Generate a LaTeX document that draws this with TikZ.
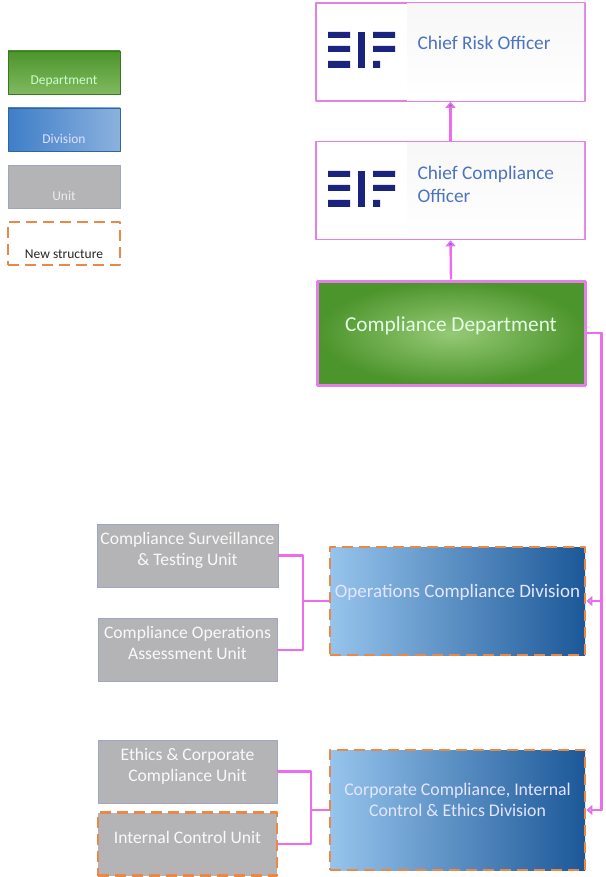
\documentclass[tikz,border=0pt]{standalone}
\usepackage{fontspec}
\setmainfont{Carlito}
\usetikzlibrary{arrows.meta}
\definecolor{linkpink}{RGB}{236,108,236}
\definecolor{boxpink}{RGB}{226,128,232}
\definecolor{neworange}{RGB}{232,137,74}
\definecolor{unitgray}{RGB}{180,180,182}
\definecolor{unitedge}{RGB}{158,166,192}
\definecolor{deplight}{RGB}{150,202,118}
\definecolor{depdark}{RGB}{76,148,44}
\definecolor{divlight}{RGB}{150,196,236}
\definecolor{divdark}{RGB}{28,88,152}
\definecolor{legblue}{RGB}{62,126,200}
\definecolor{eifblue}{RGB}{26,35,126}
\definecolor{titleblue}{RGB}{76,116,190}
\definecolor{tipblue}{RGB}{88,120,204}
\newcommand{\eifmark}[2]{%
  \begin{scope}[shift={(#1,#2)}]
    \fill[eifblue] (0,0) rectangle (22,6) (0,14) rectangle (22,20) (0,29) rectangle (22,36);
    \fill[eifblue] (30,0) rectangle (37,36);
    \fill[eifblue] (45,0) rectangle (67,6) (45,14) rectangle (67,20) (45,29) rectangle (52,36);
  \end{scope}}
\begin{document}
\begin{tikzpicture}[x=1pt, y=-1pt, line join=round,
    link/.style={linkpink, line width=2.4pt},
    uptip/.style={-{Triangle[length=6pt, width=10pt, fill=tipblue]}},
    sidetip/.style={-{Triangle[length=6pt, width=10pt, fill=divlight]}},
    chiefbox/.style={draw=boxpink, line width=1.6pt, fill=white, minimum width=269pt, minimum height=98pt},
    chieftext/.style={titleblue, font=\fontsize{19.3}{23}\selectfont, align=left, anchor=west},
    deptbox/.style={draw=boxpink, line width=3pt, inner color=deplight, outer color=depdark, text=white!90!green,
        minimum width=268pt, minimum height=104pt, text depth=17pt, font=\fontsize{21.3}{26}\selectfont},
    divbox/.style={draw=neworange, line width=2.8pt, dash pattern=on 11pt off 6pt, left color=divlight, right color=divdark,
        text=white!90!blue, minimum width=255pt, align=center, inner sep=1pt, text depth=20pt},
    unitbox/.style={draw=unitedge, line width=0.7pt, fill=unitgray, text=white!95!gray, minimum width=179pt,
        minimum height=63pt, align=center, text depth=14pt, font=\fontsize{17.6}{21}\selectfont},
    newline/.style={draw=neworange, line width=2.8pt, dash pattern=on 11pt off 6pt},
    legbox/.style={minimum width=112pt, minimum height=43pt, inner sep=0pt},
    legtext/.style={font=\fontsize{13.5}{15}\selectfont, anchor=south, yshift=4pt}]
\useasboundingbox (0,0) rectangle (605,877);
% legend
\node[legbox, draw=depdark!80!black, line width=0.6pt, top color=depdark, bottom color=deplight!70!depdark,
    label={[legtext, text=white!80!green]south:Department}] (ldep) at (64,72.5) {};
\node[legbox, draw=legblue!80!black, line width=0.6pt, left color=legblue, right color=legblue!60!white,
    label={[legtext, text=white!88!blue]south:Division}] (ldiv) at (64,129.5) {};
\node[legbox, draw=unitedge, line width=0.6pt, fill=unitgray, label={[legtext, text=white!85!gray]south:Unit}] (lunit) at (64,186.5) {};
\node[legbox, newline, fill=white, label={[legtext, text=black!85]south:New structure}] (lnew) at (64,243.5) {};
% chiefs
\node[chiefbox] (cro) at (450.5,52) {};
\node[chiefbox] (cco) at (450.5,190.5) {};
\fill[top color=gray!6, bottom color=white] (407,3.8) rectangle (584.2,100.2);
\fill[top color=gray!6, bottom color=white] (407,142.3) rectangle (584.2,238.7);
\eifmark{328}{32}
\eifmark{328}{171}
\node[chieftext] (crot) at (414,43) {Chief Risk Officer};
\node[chieftext] (ccot) at (414,184) {Chief Compliance\\Officer};
% department and divisions
\node[deptbox] (cd) at (451,333) {Compliance Department};
\node[divbox, minimum height=108pt, font=\fontsize{19}{22}\selectfont] (ocd) at (457.5,601) {Operations Compliance Division};
\node[divbox, minimum height=120pt, font=\fontsize{17.8}{21}\selectfont] (cce) at (457.5,810) {Corporate Compliance, Internal\\Control \& Ethics Division};
% units
\node[unitbox] (cst) at (187.5,555.5) {Compliance Surveillance\\\& Testing Unit};
\node[unitbox] (coa) at (187.5,650) {Compliance Operations\\Assessment Unit};
\node[unitbox] (eth) at (187.5,771.5) {Ethics \& Corporate\\Compliance Unit};
\node[unitbox, newline] (icu) at (187.5,844) {Internal Control Unit};
\coordinate (j1) at (303,601);
\coordinate (j2) at (311,810);
% connectors
\draw[link, uptip] (cco.north) -- (cro.south);
\draw[link, uptip] (cd.north) -- (cco.south);
\draw[link, sidetip] (cd.east) -- ++(15,0) |- (ocd.east);
\draw[link, sidetip] (cd.east) -- ++(15,0) |- (cce.east);
\draw[link] (cst.east) -| (j1) -- (ocd.west) (coa.east) -| (j1);
\draw[link] (eth.east) -| (j2) -- (cce.west) (icu.east) -| (j2);
\end{tikzpicture}
\end{document}
